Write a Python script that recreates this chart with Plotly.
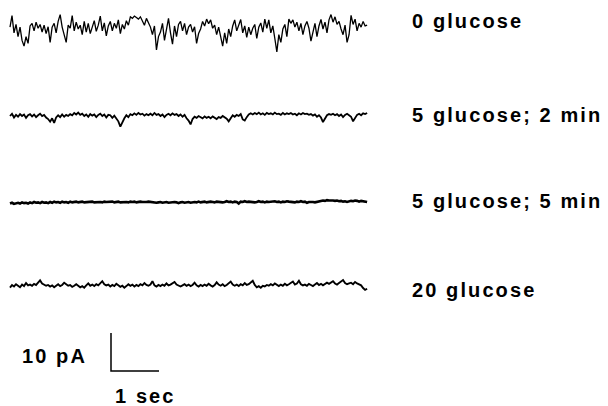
import numpy as np
import plotly.graph_objects as go

# ---- data (current deviations in pA, positive = upward) ----
trace_labels = ["0 glucose", "5 glucose; 2 min", "5 glucose; 5 min", "20 glucose"]

glucose_0 = [
    0.5, 3.5, -1.0, 1.2, -2.0, 0.5, -3.0, -4.5, -2.0, -3.8,
    0.8, 1.5, -0.5, 1.8, 0.2, 1.2, -0.8, 1.0, -1.2, 0.6,
    -3.5, 0.5, 1.5, -1.0, 2.0, 3.8, 0.5, -1.5, -3.5, 1.0,
    0.2, 3.5, -0.5, 1.8, 0.0, 1.0, -1.5, 2.0, -0.8, 1.5,
    -1.2, 0.5, 2.2, -0.6, 1.0, 3.4, -0.5, 1.6, -1.8, 0.8,
    2.0, -0.5, 1.5, 0.2, 2.4, -1.2, 1.2, 0.0, 2.2, 1.0,
    3.2, 2.8, 3.4, 3.0, 2.6, 3.2, 2.2, 1.0, 2.8, 1.5,
    0.5, -1.5, 0.8, -5.5, -2.0, -0.8, 1.5, -3.0, 0.5, 2.8,
    -1.0, -4.0, 0.8, -2.0, 1.2, 2.0, -0.5, 1.5, -1.5, 0.5,
    1.2, -0.8, 0.6, -3.8, -1.2, 0.0, 2.0, 0.8, 2.6, 1.4,
    2.4, 0.2, 1.0, -1.5, 0.5, -2.5, -4.5, -1.0, -3.8, 0.0,
    -2.0, 0.8, 2.4, -0.5, 1.0, 2.5, -1.0, 0.8, -2.2, 0.5,
    -1.5, 0.2, 1.2, -2.5, 0.5, 1.6, -0.8, 2.6, 0.2, 2.4,
    -1.0, 0.8, -2.5, -6.0, -1.5, -3.5, 0.0, 1.2, -2.0, 2.6,
    1.5, 2.4, 0.5, 1.8, -0.5, 1.5, -1.5, 0.8, 2.0, 0.2,
    -3.2, -0.5, 1.5, -2.0, 0.8, 2.5, 0.0, 1.8, -1.0, 2.4,
    3.8, 1.8, 3.2, 1.2, 2.0, 0.0, -1.5, 1.0, -3.5, -1.5,
    3.6, 1.2, 2.6, -0.5, 1.5, 0.5, 2.0, 0.8, 1.0,
]

glucose_5_2min = [
    0.0, 0.6, -0.4, 0.3, -0.2, 0.5, 0.0, 0.4, -0.5, 0.2,
    0.5, -0.1, 0.4, -0.3, 0.2, 0.6, 0.0, 0.3, -0.4, -0.8,
    -1.5, -0.6, -1.8, -0.4, 0.2, -0.3, 0.4, -0.2, 0.3, 0.0,
    0.5, 0.2, 0.8, 0.4, 0.9, 0.3, 0.6, 0.0, 0.4, -0.2,
    0.5, 0.1, 0.4, -0.3, 0.3, 0.6, 0.0, 0.4, -0.4, 0.3,
    0.2, -0.5, 0.1, -0.8, -1.4, -2.8, -1.6, -0.6, 0.2, -0.3,
    0.5, 0.2, 0.7, 0.3, 0.8, 0.4, 0.6, 0.1, 0.5, 0.2,
    0.6, 0.2, 0.8, 0.3, 0.5, 0.0, 0.4, -0.3, 0.3, 0.6,
    0.2, 0.7, 0.3, 0.5, 0.0, 0.4, -0.2, 0.3, -0.6, -1.2,
    -2.2, -0.8, -0.2, -0.5, 0.0, -0.3, -0.6, -0.1, -0.5, -0.2,
    -0.6, -0.1, -0.4, -0.8, -0.3, -0.5, 0.0, -0.4, -0.7, -1.4,
    -0.5, 0.2, -0.2, 0.3, 0.0, 0.5, -0.9, -1.2, -0.3, 0.4,
    0.7, 0.4, 0.8, 0.5, 0.9, 0.4, 0.7, 0.3, 0.8, 0.5,
    0.7, 0.4, 0.9, 0.5, 0.6, 0.3, 0.8, 0.4, 0.7, 0.5,
    0.8, 0.4, 0.6, 0.2, 0.7, 0.4, 0.8, 0.5, 0.6, 0.3,
    0.5, 0.1, 0.4, -0.2, 0.2, -0.4, -1.6, -0.5, 0.2, 0.5,
    0.3, 0.6, 0.2, 0.5, 0.0, 0.4, -0.3, 0.3, 0.6, 0.2,
    -0.2, -1.4, -0.4, 0.3, 0.6, 0.2, 0.7, 0.5, 0.8,
]

glucose_5_5min = [
    -0.4, -0.2, -0.5, -0.3, -0.2, -0.4, -0.1, -0.3, -0.2, -0.4,
    -0.1, -0.3, 0.0, -0.2, -0.1, -0.3, 0.0, -0.2, -0.1, -0.3,
    0.0, -0.2, 0.1, -0.1, 0.0, -0.2, 0.1, -0.1, 0.0, -0.2,
    0.1, -0.1, 0.0, 0.1, -0.1, 0.0, 0.1, -0.1, 0.0, 0.1,
    0.0, 0.1, -0.1, 0.0, 0.1, 0.0, -0.1, 0.1, 0.0, 0.1,
    0.0, 0.1, -0.1, 0.0, 0.1, -0.1, 0.0, 0.1, 0.0, -0.1,
    0.1, 0.0, 0.1, -0.1, 0.0, 0.1, 0.0, -0.1, 0.0, 0.1,
    0.0, -0.1, 0.0, -0.2, -0.1, 0.0, -0.2, -0.1, 0.0, -0.2,
    -0.1, -0.2, 0.0, -0.1, -0.3, -0.1, 0.0, -0.2, -0.1, 0.0,
    -0.2, -0.1, 0.0, -0.1, 0.1, -0.1, 0.0, 0.1, -0.1, 0.0,
    0.1, 0.0, -0.1, 0.1, 0.0, 0.1, -0.1, 0.0, 0.2, 0.0,
    0.1, -0.1, 0.1, 0.0, -0.4, 0.1, 0.0, 0.2, 0.0, 0.1,
    0.0, 0.1, -0.1, 0.0, 0.2, 0.0, 0.1, -0.1, 0.1, 0.0,
    0.1, 0.0, 0.2, 0.0, 0.1, -0.1, 0.1, 0.0, 0.2, 0.1,
    0.0, 0.1, -0.1, 0.1, 0.0, 0.2, 0.0, 0.1, -0.2, 0.0,
    0.1, 0.0, -0.1, 0.0, 0.2, 0.3, 0.4, 0.3, 0.5, 0.4,
    0.5, 0.4, 0.3, 0.4, 0.2, 0.3, 0.1, 0.2, 0.0, 0.2,
    0.3, 0.2, 0.4, 0.3, 0.1, 0.3, 0.2, 0.1, 0.0,
]

glucose_20 = [
    -0.3, 0.4, 0.0, 0.6, 0.2, -0.2, 0.5, 0.1, 0.9, 0.3,
    0.5, 0.2, 0.7, 0.4, 1.0, 1.6, 0.8, 0.5, 0.2, 0.4,
    0.0, 0.3, -0.2, 0.2, 0.6, 0.1, 0.4, 1.0, 0.5, 0.2,
    0.4, -0.1, 0.2, 0.6, 0.2, -0.2, 0.1, -0.3, 0.3, 0.8,
    0.2, 0.5, 0.1, 0.6, 0.3, 0.9, 1.4, 0.6, 0.3, 0.5,
    0.0, 0.4, 0.1, 0.7, 0.3, -0.1, 0.2, -0.3, 0.1, 0.6,
    0.2, 0.5, 0.0, 0.4, 0.1, 0.6, 0.3, 0.9, 0.4, 0.2,
    0.5, 1.4, 0.3, 0.0, 0.4, 0.1, 0.5, 0.2, 0.8, 0.3,
    0.5, 0.9, 1.2, 0.5, 0.3, 0.0, 0.3, 0.6, 0.2, 0.5,
    0.1, 0.4, 1.0, 0.3, 0.0, 0.4, 0.1, 0.5, 0.2, 0.7,
    0.3, 0.0, 0.4, 1.1, 0.5, 0.2, 0.6, 0.1, 0.4, 0.8,
    1.3, 0.5, 0.2, 0.5, 0.1, 0.6, 0.3, 0.9, 0.4, 0.6,
    1.0, 1.5, 0.4, -0.2, 0.1, -0.3, 0.2, 0.0, 0.4, 0.2,
    0.6, 0.3, 0.8, 0.4, 0.1, 0.5, 0.2, 0.7, 0.3, 0.6,
    0.9, 1.3, 0.5, 0.8, 1.5, 0.6, 0.3, 0.5, 0.2, 0.7,
    0.4, 0.1, 0.5, 0.9, 0.4, 0.7, 0.3, 0.6, 1.0, 0.7,
    1.1, 1.4, 0.8, 0.5, 0.9, 1.3, 1.7, 0.9, 0.6, 0.8,
    1.0, 0.6, 1.2, 0.8, 0.5, 0.3, -0.4, -0.9, -0.6,
]

record_duration_s = 7.44        # length of each sweep
scale_current_pA = 10           # vertical scale bar
scale_time_s = 1                # horizontal scale bar
scale_labels = ["10 pA", "1 sec"]

# ---- layout constants ----
W, H = 608, 406
PX_PER_S = 48.0
PX_PER_PA = 3.8
X0_PX = 10.0
offsets_px = [29, 116, 202, 286.5]
widths = [1.3, 1.8, 2.6, 1.9]

def px_to_y(py):
    return -py / PX_PER_PA

fig = go.Figure()
series = [glucose_0, glucose_5_2min, glucose_5_5min, glucose_20]
for vals, off, lw in zip(series, offsets_px, widths):
    v = np.asarray(vals, dtype=float)
    t = np.linspace(0, record_duration_s, len(v))
    fig.add_trace(go.Scatter(x=t, y=v + px_to_y(off), mode="lines",
                             line=dict(color="black", width=lw),
                             hoverinfo="skip", showlegend=False))

# scale bar
bx = (111 - X0_PX) / PX_PER_S
by = px_to_y(371)
fig.add_trace(go.Scatter(
    x=[bx, bx, bx + scale_time_s],
    y=[by + scale_current_pA, by, by],
    mode="lines", line=dict(color="black", width=1.5),
    hoverinfo="skip", showlegend=False))

def lab(text, px, py, anchor="left"):
    return dict(text='<span style="letter-spacing:2.1px"><b>' + text + '</b></span>',
                x=px / W, y=1 - py / H, xref="paper", yref="paper",
                xanchor=anchor, yanchor="middle", showarrow=False,
                font=dict(family="Liberation Sans, Arial", size=20, color="black"))

label_y = [21, 115, 201, 290]
annotations = [lab(t, 410, y) for t, y in zip(trace_labels, label_y)]
annotations.append(lab(scale_labels[0], 20, 356))
annotations.append(lab(scale_labels[1], 113, 396))

fig.update_layout(
    width=W, height=H,
    margin=dict(l=0, r=0, t=0, b=0),
    paper_bgcolor="white", plot_bgcolor="white",
    xaxis=dict(range=[-X0_PX / PX_PER_S, (W - X0_PX) / PX_PER_S], visible=False, fixedrange=True),
    yaxis=dict(range=[px_to_y(H), 0], visible=False, fixedrange=True),
    annotations=annotations,
)
fig.write_html("out.html", config={"displayModeBar": False},
               post_script="document.body.style.margin='0';document.body.style.overflow='hidden';")
